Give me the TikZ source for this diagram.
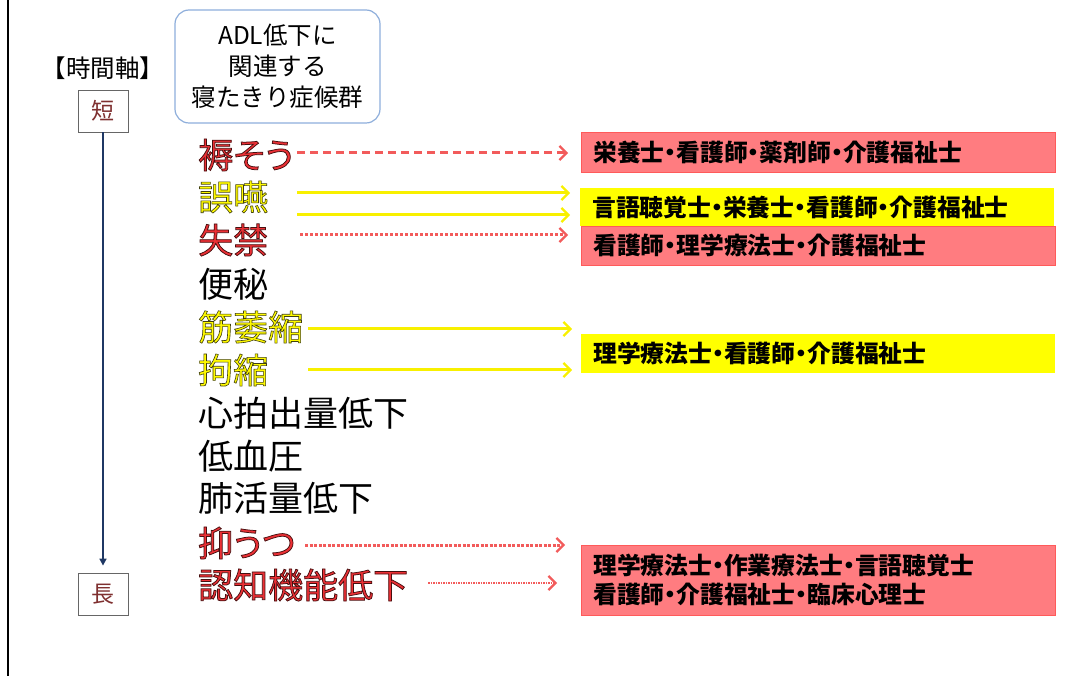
\documentclass[tikz,border=0pt]{standalone}
\usepackage{fontspec}
\setmainfont{Noto Sans CJK JP}
\newfontfamily\jpp{Noto Sans CJK JP}[RawFeature=+palt]
\usetikzlibrary{arrows.meta}
\definecolor{boxred}{HTML}{FF7C80}
\definecolor{boxredline}{HTML}{FF5A5A}
\definecolor{boxyel}{HTML}{FFFF00}
\definecolor{arrred}{HTML}{F25B5B}
\definecolor{arryel}{HTML}{F8F000}
\definecolor{symred}{HTML}{EC3035}
\definecolor{symyel}{HTML}{FFFA00}
\definecolor{navy}{HTML}{1F3864}
\definecolor{darkred}{HTML}{7F3030}
\definecolor{adlblue}{HTML}{8EAEDB}
\newcommand\olred[1]{\special{pdf:literal direct 0.28 0.06 0.06 RG 2 Tr 0.75 w}#1\special{pdf:literal direct 0 Tr}}
\newcommand\olyel[1]{\special{pdf:literal direct 0.25 0.25 0.05 RG 2 Tr 0.6 w}#1\special{pdf:literal direct 0 Tr}}
\tikzset{
  tbox/.style={draw=black!60, line width=0.8pt, minimum width=50pt, minimum height=42pt, text=darkred, font=\fontsize{23}{24}\selectfont},
  sym/.style={anchor=west, inner sep=0pt, font=\jpp\fontsize{35}{38}\selectfont},
  redsym/.style={sym, text=symred},
  yelsym/.style={sym, text=symyel},
  blksym/.style={sym, text=black},
  rbox/.style={fill=boxred, draw=boxredline, line width=0.6pt, minimum width=474pt, inner sep=0pt, anchor=north west},
  ybox/.style={fill=boxyel, minimum width=474pt, inner sep=0pt, anchor=north west},
  btxt/.style={anchor=west, inner sep=0pt, font=\jpp\bfseries\fontsize{23.8}{29}\selectfont, align=left},
  tip/.style={-{Straight Barb[length=7pt,width=14pt,line width=2.2pt]}},
  reddash/.style={tip, arrred, line width=3pt, dash pattern=on 8pt off 5pt},
  reddot/.style={tip, arrred, line width=3pt, dash pattern=on 3pt off 2pt},
  redfine/.style={tip, arrred, line width=2.5pt, dash pattern=on 1.5pt off 1pt},
  yelarr/.style={tip, arryel, line width=3pt},
}
\begin{document}
\begin{tikzpicture}[x=1pt,y=-1pt]
\useasboundingbox (0,0) rectangle (1080,676);
\draw[line width=2.5pt] (8,-2) -- (8,678);

% time axis
\node[font=\fontsize{24.5}{26}\selectfont, inner sep=0pt] (axis) at (103,68) {【時間軸】};
\node[tbox] (short) at (103,111) {短};
\node[tbox] (long) at (103,594) {長};
\draw[navy, line width=1.6pt, -{Triangle[length=7pt,width=7pt]}, shorten >=7pt] (short) -- (long);

% title box
\node[draw=adlblue, line width=1.2pt, rounded corners=14pt, minimum width=205pt, minimum height=113pt, align=center, font=\fontsize{24.5}{31}\selectfont] (title) at (277.5,66.5) {ADL低下に\\関連する\\寝たきり症候群};

% symptoms
\node[redsym] (s1) at (198,155) {\olred{褥そう}};
\node[yelsym] (s2) at (198,197) {\olyel{誤嚥}};
\node[redsym] (s3) at (198,240) {\olred{失禁}};
\node[blksym] (s4) at (198,284) {便秘};
\node[yelsym] (s5) at (198,327) {\olyel{筋萎縮}};
\node[yelsym] (s6) at (198,370) {\olyel{拘縮}};
\node[blksym] (s7) at (198,413) {心拍出量低下};
\node[blksym] (s8) at (198,456) {低血圧};
\node[blksym] (s9) at (198,498) {肺活量低下};
\node[redsym] (s10) at (198,543) {\olred{抑うつ}};
\node[redsym] (s11) at (198,585) {\olred{認知機能低下}};

% profession boxes
\node[rbox, minimum height=40pt] (b1) at (581,132) {};
\node[btxt] at ([xshift=12pt]b1.west) {栄養士・看護師・薬剤師・介護福祉士};
\node[rbox, minimum height=39pt] (b3) at (581,226) {};
\node[btxt] at ([xshift=12pt]b3.west) {看護師・理学療法士・介護福祉士};
\node[ybox, minimum height=38pt] (b2) at (580,188) {};
\node[btxt] at ([xshift=12pt]b2.west) {言語聴覚士・栄養士・看護師・介護福祉士};
\node[ybox, minimum height=39pt] (b4) at (581,334) {};
\node[btxt] at ([xshift=12pt]b4.west) {理学療法士・看護師・介護福祉士};
\node[rbox, minimum height=70pt] (b5) at (581,545) {};
\node[btxt] at ([xshift=12pt]b5.west) {理学療法士・作業療法士・言語聴覚士\\看護師・介護福祉士・臨床心理士};

% arrows (start x measured from the fixed west edge of each label)
\draw[reddash, shorten >=13pt] ([xshift=99pt,yshift=2pt]s1.west) -- ([yshift=2pt]s1.west -| b1.west);
\draw[yelarr, shorten >=10pt] ([xshift=99pt,yshift=4pt]s2.west) -- ([yshift=4pt]s2.west -| b2.west);
\draw[yelarr, shorten >=10pt] ([xshift=99pt,yshift=-18pt]s2.west) -- ([yshift=-18pt]s2.west -| b2.west);
\draw[reddot, shorten >=13pt] ([xshift=102pt,yshift=5pt]s3.west) -- ([yshift=5pt]s3.west -| b3.west);
\draw[yelarr, shorten >=9pt] ([xshift=110pt,yshift=-2pt]s5.west) -- ([yshift=-2pt]s5.west -| b4.west);
\draw[yelarr, shorten >=9pt] ([xshift=110pt]s6.west) -- (s6.west -| b4.west);
\draw[reddot, dash pattern=on 3pt off 1.5pt, shorten >=16pt] ([xshift=107pt,yshift=-2pt]s10.west) -- ([yshift=-2pt]s10.west -| b5.west);
\draw[redfine, shorten >=24pt] ([xshift=230pt,yshift=2pt]s11.west) -- ([yshift=2pt]s11.west -| b5.west);
\end{tikzpicture}
\end{document}
